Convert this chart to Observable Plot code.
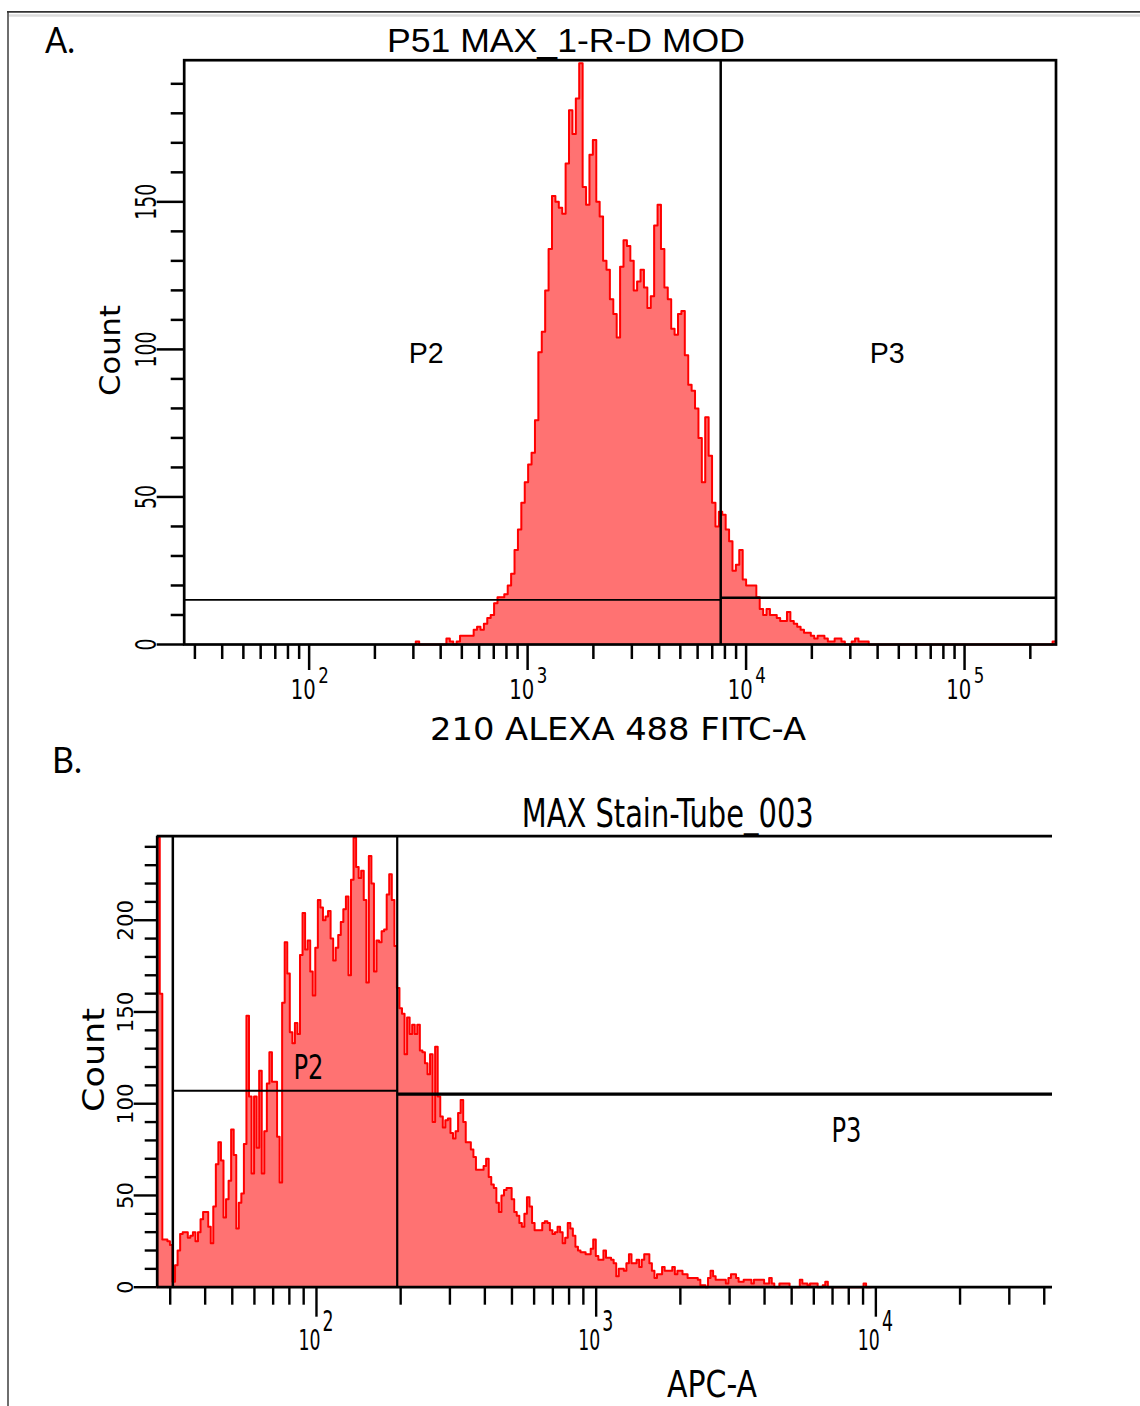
<!DOCTYPE html>
<html>
<head>
<meta charset="utf-8">
<script src="https://cdn.jsdelivr.net/npm/d3@7"></script>
<script src="https://cdn.jsdelivr.net/npm/@observablehq/plot@0.6"></script>
<style>
  html, body { margin: 0; padding: 0; background: #fff; }
  #page { position: relative; width: 1140px; height: 1406px; overflow: hidden; background: #fff; }
  #page > svg { position: absolute; left: 0; }
</style>
</head>
<body>
<div id="page"></div>
<script>
// ---------------- Panel A data ----------------
const panelLabelA = "A.";
const titleA = "P51 MAX_1-R-D MOD";
const xLabelA = "210 ALEXA 488 FITC-A";
const yLabelA = "Count";
const xDomainA = [26.8, 262143];
const yDomainA = [0, 198];
const binCountA = 256;          // instrument bins across the x range
const firstBinA = 68;           // first bin index listed in countsA
const countsA = [
  1,0,0,0,0,0,0,0,0,2,
  1,0,1,3,3,3,3,5,6,5,
  7,9,10,14,16,16,17,20,24,32,
  39,48,55,61,65,76,99,106,120,134,
  152,150,148,146,163,181,173,185,197,155,
  149,166,171,150,145,130,127,117,112,104,
  128,137,135,130,120,123,127,121,114,118,
  142,149,134,121,117,107,105,112,113,98,
  88,86,80,70,55,77,64,48,40,45,
  44,39,35,25,27,32,22,20,20,20,
  16,12,10,12,10,10,9,8,8,11,
  8,7,6,5,4,4,3,2,3,3,
  2,1,1,2,2,1,0,0,1,2,
  1,1,1,0,0,0,0,0,0,0,
  0,0,0,0,0,0,0,0,0,0,
  0,0,0,0,0,0,0,0,0,0,
  0,0,0,0,0,0,0,0,0,0,
  0,0,0,0,0,0,0,0,0,0,
  0,0,0,0,0,0,0,1
];
const gateXA = 7653;
const gateP2YA = 15.1;
const gateP3YA = 15.8;
const gateLabelsA = [{name: "P2", x: 343.6, y: 98.6}, {name: "P3", x: 44240, y: 98.6}];
const yMajorA = [0, 50, 100, 150];
const yMinorA = [10, 20, 30, 40, 60, 70, 80, 90, 110, 120, 130, 140, 160, 170, 180, 190];
const xMajorA = [100, 1000, 10000, 100000];
const xExpA = ["2", "3", "4", "5"];
const xMinorA = [30, 40, 50, 60, 70, 80, 90, 200, 300, 400, 500, 600, 700, 800, 900,
  2000, 3000, 4000, 5000, 6000, 7000, 8000, 9000,
  20000, 30000, 40000, 50000, 60000, 70000, 80000, 90000, 200000];

// ---------------- Panel B data ----------------
const panelLabelB = "B.";
const titleB = "MAX Stain-Tube_003";
const xLabelB = "APC-A";
const yLabelB = "Count";
const xDomainB = [26.95, 42810];
const yDomainB = [0, 245.8];
const binLogWidthB = 0.009117;  // decades per instrument bin
const countsB = [
  245,160,26,26,25,23,3,12,20,29,
  30,30,27,28,30,25,30,37,41,41,
  33,24,44,67,79,69,38,48,58,86,
  72,32,46,51,78,148,104,62,104,76,
  118,62,85,111,128,112,112,82,57,155,
  188,171,139,133,144,138,181,204,184,189,
  172,159,185,211,207,200,202,205,190,178,
  185,192,199,206,213,170,222,245,229,223,
  227,211,166,235,220,172,189,188,194,195,
  214,225,211,186,163,152,149,127,147,138,
  143,138,143,129,128,122,116,127,90,131,
  104,93,87,91,92,84,81,85,95,102,
  90,79,79,75,71,64,64,64,66,70,
  60,56,54,46,41,50,53,54,54,48,
  41,39,35,33,40,49,44,35,31,31,
  31,35,36,35,31,29,30,33,30,24,
  27,35,32,28,22,20,19,19,18,18,
  21,26,17,15,15,20,16,16,15,13,
  6,10,10,9,13,18,13,13,15,11,
  15,18,18,13,9,5,7,7,11,9,
  9,9,11,7,9,9,7,7,5,5,
  5,5,4,1,1,0,5,9,6,4,
  4,4,4,2,5,7,7,5,3,3,
  4,4,4,2,4,4,4,4,2,2,
  5,2,0,0,2,2,2,2,0,0,
  0,0,4,2,2,1,2,2,2,0,
  0,1,3,0,0,0,0,0,0,0,
  0,0,0,0,0,0,0,2,0,0
];
const gateP2LeftB = 30.65;
const gateP2RightB = 194.4;
const gateP2YB = 107;
const gateP3YB = 105.2;
const gateLabelsB = [{name: "P2", x: 93.6, y: 119.5}, {name: "P3", x: 7851, y: 85.1}];
const yMajorB = [0, 50, 100, 150, 200];
const yMinorB = [10, 20, 30, 40, 60, 70, 80, 90, 110, 120, 130, 140, 160, 170, 180, 190, 210, 220, 230, 240];
const xMajorB = [100, 1000, 10000];
const xExpB = ["2", "3", "4"];
const xMinorB = [30, 40, 50, 60, 70, 80, 90, 200, 300, 400, 500, 600, 700, 800, 900,
  2000, 3000, 4000, 5000, 6000, 7000, 8000, 9000, 20000, 30000, 40000];

// ---------------- styles ----------------
const NARROW = '"Liberation Sans Narrow", "Arial Narrow", "DejaVu Sans Condensed", "Liberation Sans", sans-serif';
const WIDE = '"Liberation Sans", Arial, sans-serif';
const CAL = 'Lato, "Open Sans", sans-serif';
const FILL = "#ff7272";
const LINE = "#ff0000";

// histogram tables (bin lower edges on the instrument's log bins)
const logMinA = Math.log10(xDomainA[0]);
const logStepA = (Math.log10(xDomainA[1]) - logMinA) / binCountA;
const histA = [{x: 10 ** (logMinA + firstBinA * logStepA), y: 0}]
  .concat(countsA.map((c, k) => ({x: 10 ** (logMinA + (firstBinA + k) * logStepA), y: c})))
  .concat([{x: 10 ** (logMinA + (firstBinA + countsA.length) * logStepA), y: 0}]);

const logMinB = Math.log10(xDomainB[0]);
const histB = [{x: xDomainB[0], y: 0}]
  .concat(countsB.map((c, k) => ({x: 10 ** (logMinB + k * binLogWidthB), y: c})))
  .concat([{x: 10 ** (logMinB + countsB.length * binLogWidthB), y: 0}]);

function sel(svg, tag) {
  return d3.select(svg).selectAll(`g[aria-description="${tag}"] text`);
}
function fit(svg, tag, len) {
  sel(svg, tag).each(function () {
    const L = typeof len === "function" ? len(this.textContent) : len;
    d3.select(this).attr("textLength", L).attr("lengthAdjust", "spacingAndGlyphs");
  });
}
// "10" + superscript exponent in one text element, compressed horizontally to the measured width
function powers(svg, tag, exps, baseLen, expSize, expDx, expDy) {
  sel(svg, tag).each(function (_, i) {
    const t = d3.select(this);
    t.text(null).attr("text-anchor", "start");
    const base = t.append("tspan").text("10");
    t.append("tspan").text(exps[i]).attr("font-size", expSize).attr("dx", expDx).attr("dy", expDy);
    const w = base.node().getComputedTextLength() || baseLen;
    const s = baseLen / w;
    const tr = this.getAttribute("transform") || "";
    if (tr.includes("translate")) {
      this.setAttribute("transform", `${tr} scale(${s},1)`);
    } else {
      const x = parseFloat(this.getAttribute("x")) || 0;
      this.setAttribute("x", 0);
      this.setAttribute("transform", `translate(${x},0) scale(${s},1)`);
    }
  });
}

// ---------------- Panel A ----------------
const plotA = Plot.plot({
  width: 1140, height: 760,
  marginLeft: 183.7, marginRight: 84.5, marginTop: 59.7, marginBottom: 116,
  style: {fontFamily: NARROW, background: "transparent", color: "black"},
  x: {type: "log", domain: xDomainA, axis: null},
  y: {domain: yDomainA, axis: null},
  marks: [
    Plot.areaY(histA, {x: "x", y: "y", curve: "step-after", fill: FILL}),
    Plot.lineY(histA, {x: "x", y: "y", curve: "step-after", stroke: LINE, strokeWidth: 2}),
    Plot.ruleY([gateP2YA], {x1: xDomainA[0], x2: gateXA, stroke: "black", strokeWidth: 1.8}),
    Plot.ruleY([gateP3YA], {x1: gateXA, x2: xDomainA[1], stroke: "black", strokeWidth: 2.5}),
    Plot.ruleX([gateXA], {y1: 0, y2: yDomainA[1], stroke: "black", strokeWidth: 2.5}),
    Plot.frame({stroke: "black", strokeWidth: 2.7}),
    Plot.axisY(yMinorA, {anchor: "left", tickSize: 13, strokeWidth: 2.5, tickFormat: () => "", label: null}),
    Plot.axisY(yMajorA, {anchor: "left", tickSize: 27, strokeWidth: 2.5, tickFormat: () => "", label: null}),
    Plot.axisX(xMinorA, {anchor: "bottom", tickSize: 15, strokeWidth: 2.5, tickFormat: () => "", label: null}),
    Plot.axisX(xMajorA, {anchor: "bottom", tickSize: 26, strokeWidth: 2.5, tickFormat: () => "", label: null}),
    Plot.text(yMajorA, {y: d => d, text: d => String(d), frameAnchor: "left", dx: -37, rotate: -90,
      fontSize: 28, lineAnchor: "middle", textAnchor: "middle", fill: "black", ariaDescription: "ylab-a"}),
    Plot.text(xMajorA, {x: d => d, text: () => "10", frameAnchor: "bottom", dx: -18.4, dy: 45.7,
      fontSize: 26, lineAnchor: "middle", textAnchor: "start", fill: "black", ariaDescription: "xpow-a"}),
    Plot.text(gateLabelsA, {x: "x", y: "y", text: "name", fontSize: 30, lineAnchor: "middle",
      fill: "black", fontFamily: WIDE, ariaDescription: "gates-a"})
  ]
});
fit(plotA, "ylab-a", t => 12 * t.length);
fit(plotA, "gates-a", 35);
plotA.style.top = "0px";

// ---------------- Panel B ----------------
const plotB = Plot.plot({
  width: 1140, height: 646,
  marginLeft: 156.7, marginRight: 88, marginTop: 75.7, marginBottom: 119.3,
  style: {fontFamily: NARROW, background: "transparent", color: "black"},
  x: {type: "log", domain: xDomainB, axis: null},
  y: {domain: yDomainB, axis: null},
  marks: [
    Plot.areaY(histB, {x: "x", y: "y", curve: "step-after", fill: FILL}),
    Plot.lineY(histB, {x: "x", y: "y", curve: "step-after", stroke: LINE, strokeWidth: 2}),
    Plot.ruleX([gateP2LeftB], {y1: 0, y2: yDomainB[1], stroke: "black", strokeWidth: 2.5}),
    Plot.ruleX([gateP2RightB], {y1: 0, y2: yDomainB[1], stroke: "black", strokeWidth: 2.2}),
    Plot.ruleY([gateP2YB], {x1: gateP2LeftB, x2: gateP2RightB, stroke: "black", strokeWidth: 2}),
    Plot.ruleY([gateP3YB], {x1: gateP2RightB, x2: xDomainB[1], stroke: "black", strokeWidth: 3.2}),
    Plot.ruleY([yDomainB[1]], {stroke: "black", strokeWidth: 2.7}),
    Plot.ruleX([xDomainB[0]], {stroke: "black", strokeWidth: 2.7}),
    Plot.ruleY([0], {stroke: "black", strokeWidth: 2.7}),
    Plot.axisY(yMinorB, {anchor: "left", tickSize: 12, strokeWidth: 2.4, tickFormat: () => "", label: null}),
    Plot.axisY(yMajorB, {anchor: "left", tickSize: 23, strokeWidth: 2.4, tickFormat: () => "", label: null}),
    Plot.axisX(xMinorB, {anchor: "bottom", tickSize: 18, strokeWidth: 2.4, tickFormat: () => "", label: null}),
    Plot.axisX(xMajorB, {anchor: "bottom", tickSize: 30, strokeWidth: 2.4, tickFormat: () => "", label: null}),
    Plot.text(yMajorB, {y: d => d, text: d => String(d), frameAnchor: "left", dx: -31.7, rotate: -90,
      fontSize: 22, lineAnchor: "middle", textAnchor: "middle", fill: "black", ariaDescription: "ylab-b"}),
    Plot.text(xMajorB, {x: d => d, text: () => "10", frameAnchor: "bottom", dx: -18, dy: 54.3,
      fontSize: 28, lineAnchor: "middle", textAnchor: "start", fill: "black", ariaDescription: "xpow-b"}),
    Plot.text(gateLabelsB, {x: "x", y: "y", text: "name", fontSize: 34, lineAnchor: "middle",
      fill: "black", ariaDescription: "gates-b"})
  ]
});
fit(plotB, "ylab-b", t => 14 * t.length - 1);
fit(plotB, "gates-b", 30);
plotB.style.top = "760px";

const page = document.getElementById("page");
page.appendChild(plotA);
page.appendChild(plotB);

// superscript tick labels need to be measured once in the document
powers(plotA, "xpow-a", xExpA, 25, 22, 3, -16);
powers(plotB, "xpow-b", xExpB, 22, 28, 3, -19);

// ---------------- overlay: border, titles, axis labels ----------------
const ov = d3.create("svg").attr("width", 1140).attr("height", 1406)
  .style("top", "0px").style("pointer-events", "none");
ov.append("line").attr("x1", 8).attr("x2", 8).attr("y1", 11).attr("y2", 1406)
  .attr("stroke", "#4a4a4a").attr("stroke-width", 1.6);
ov.append("line").attr("x1", 7).attr("x2", 1140).attr("y1", 11.8).attr("y2", 11.8)
  .attr("stroke", "#333").attr("stroke-width", 1.8);
ov.append("line").attr("x1", 9).attr("x2", 1140).attr("y1", 15.5).attr("y2", 15.5)
  .attr("stroke", "#dcdcdc").attr("stroke-width", 2.4);

function label(txt, x, y, size, family, len, opts = {}) {
  const t = ov.append("text").text(txt)
    .attr("font-family", family).attr("font-size", size).attr("fill", "black")
    .attr("textLength", len).attr("lengthAdjust", "spacingAndGlyphs");
  if (opts.rotate) {
    t.attr("text-anchor", "middle").attr("transform", `translate(${x},${y}) rotate(-90)`);
  } else {
    t.attr("x", x).attr("y", y).attr("text-anchor", "start");
  }
  return t;
}
label(panelLabelA, 45, 53.3, 36, CAL, 30);
label(panelLabelB, 52, 773.3, 36, CAL, 30);
label(titleA, 387, 52, 33, WIDE, 358);
label(titleB, 521.7, 826.7, 39, NARROW, 292);
label(xLabelA, 430, 740, 32, NARROW, 376);
label(xLabelB, 667, 1397, 37, NARROW, 90);
label(yLabelA, 120, 350.5, 28, NARROW, 91, {rotate: true});
label(yLabelB, 103.5, 1060, 31, NARROW, 104, {rotate: true});
page.appendChild(ov.node());
</script>
</body>
</html>
